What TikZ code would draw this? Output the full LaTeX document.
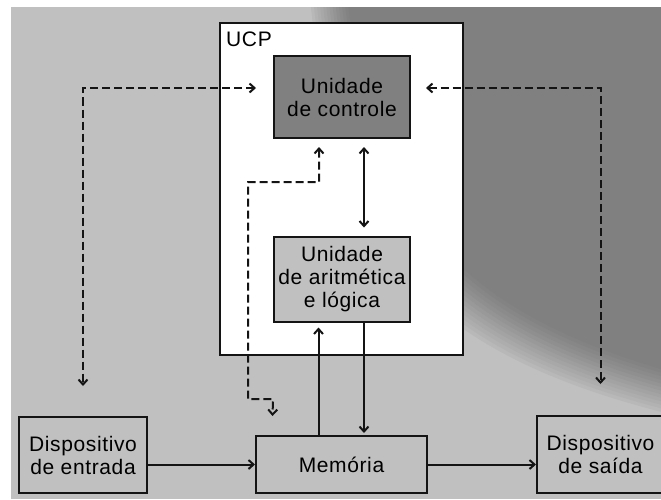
\documentclass[tikz,border=0pt]{standalone}
\usepackage{fontspec}
\setmainfont{Liberation Sans}[LetterSpace=3]
\usetikzlibrary{arrows.meta}
\definecolor{bglight}{HTML}{C0C0C0}
\definecolor{bgdark}{HTML}{808080}
\definecolor{inkc}{HTML}{141414}
\begin{document}
\begin{tikzpicture}[x=1pt,y=-1pt,
  >={Straight Barb[length=5pt,width=9pt]},
  box/.style={draw=inkc, line width=2pt, inner sep=0pt, align=center,
              text=black, font=\fontsize{21}{23}\selectfont},
  conn/.style={draw=inkc, line width=2pt},
  dconn/.style={conn, dash pattern=on 8pt off 4pt},
]
\useasboundingbox (0,0) rectangle (661,499);
% background
\fill[white] (0,0) rectangle (661,499);
\fill[bglight] (11,7) rectangle (661,499);
\begin{scope}
  \clip (11,7) rectangle (661,499);
  \foreach \s/\p in {24/28,20/30,16/32,12/34,8/36,4/38,0/40,-4/42,-8/44,-12/45.5,-16/47,-20/48.5,-24/50}{
    \fill[black!\p, shift={(-0.7*\s,0.7*\s)}]
      (325,-40) .. controls (345,200) and (400,335) .. (720,405)
      -- (760,-80) -- cycle;
  }
\end{scope}

% CPU frame
\node[draw=inkc, line width=2pt, fill=white, inner sep=0pt,
      minimum width=243pt, minimum height=332pt] (ucp) at (341.5,189) {};
\node[anchor=north west, inner sep=0pt, text=black,
      font=\fontsize{21}{23}\selectfont] (ucplabel) at (226,32) {UCP};

% blocks
\node[box, fill=bgdark, minimum width=136pt, minimum height=82pt] (uc) at (342,97)
  {Unidade\\de controle};
\node[box, fill=bglight, minimum width=136pt, minimum height=85pt] (alu) at (342,279)
  {Unidade\\de aritmética\\e lógica};
\node[box, fill=bglight, minimum width=128pt, minimum height=76pt] (ent) at (83,455)
  {Dispositivo\\de entrada};
\node[box, fill=bglight, minimum width=171pt, minimum height=57pt] (mem) at (341.5,464.5)
  {Memória};
\node[box, fill=bglight, minimum width=127pt, minimum height=77pt] (sai) at (600.5,454.5)
  {Dispositivo\\de saída};

% solid connectors
\draw[conn,->] (ent.east |- mem.west) -- (mem.west);
\draw[conn,->] (mem.east) -- (sai.west |- mem.east);
\draw[conn,->,shorten >=2pt] ([xshift=22pt]alu.south) -- ([xshift=22pt]alu.south |- mem.north);
\draw[conn,->,shorten >=5pt] ([xshift=-23pt]mem.north) -- ([xshift=-23pt]mem.north |- alu.south);
\draw[conn,<->,shorten <=8pt,shorten >=8pt] ([xshift=22pt]uc.south) -- ([xshift=22pt]alu.north);

% dashed connectors
\draw[dconn,<->,shorten <=17pt,shorten >=30pt] ([yshift=9pt]uc.west) -| (ent.north);
\draw[dconn,<->,shorten <=15pt,shorten >=31pt] ([yshift=9pt]uc.east) -| (sai.north);
\draw[dconn,<->,shorten <=8pt,shorten >=19pt] ([xshift=-23pt]uc.south)
  -- ++(0,43) -- ++(-71,0) -- ++(0,217) -- ++(25,0)
  -- ([xshift=17pt]mem.north west);
\end{tikzpicture}
\end{document}
